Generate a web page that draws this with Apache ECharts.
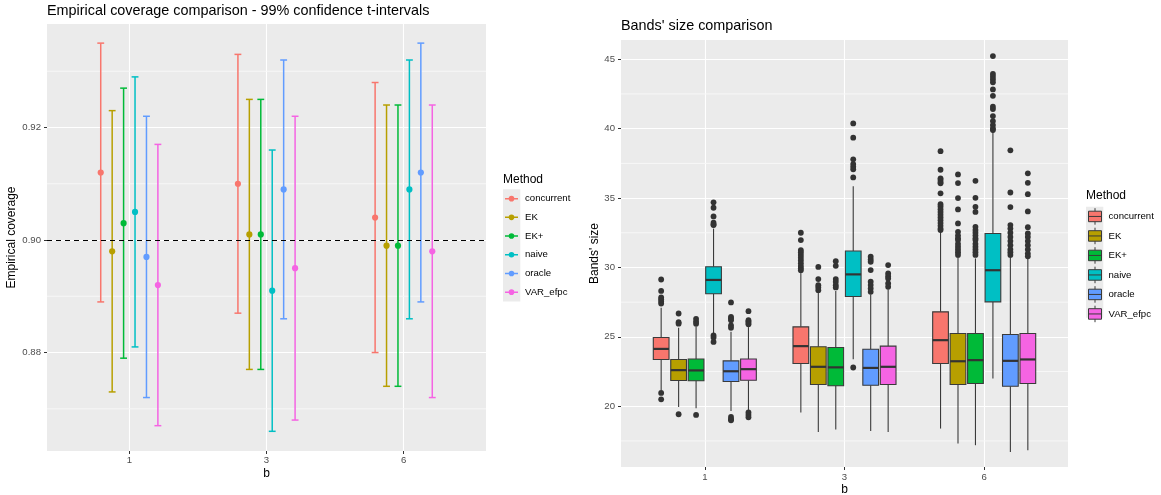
<!DOCTYPE html>
<html>
<head>
<meta charset="utf-8">
<script src="https://cdn.jsdelivr.net/npm/echarts@6/dist/echarts.min.js"></script>
<style>
html,body{margin:0;padding:0;background:#fff;}
#chart{width:1161px;height:495px;}
</style>
</head>
<body>
<div id="chart"></div>
<script>
// ---------- DATA ----------
const methods = ['concurrent', 'EK', 'EK+', 'naive', 'oracle', 'VAR_efpc'];
const bLabels = ['1', '3', '6'];
const colors = ['#F8766D', '#B79F00', '#00BA38', '#00BFC4', '#619CFF', '#F564E3'];

// Empirical coverage (rows: methods, columns: b = 1, 3, 6)
const coverageEstimate = [
  [0.912, 0.910, 0.904],
  [0.898, 0.901, 0.899],
  [0.903, 0.901, 0.899],
  [0.905, 0.891, 0.909],
  [0.897, 0.909, 0.912],
  [0.892, 0.895, 0.898]
];
const coverageLower = [
  [0.889, 0.887, 0.880],
  [0.873, 0.877, 0.874],
  [0.879, 0.877, 0.874],
  [0.881, 0.866, 0.886],
  [0.872, 0.886, 0.889],
  [0.867, 0.868, 0.872]
];
const coverageUpper = [
  [0.935, 0.933, 0.928],
  [0.923, 0.925, 0.924],
  [0.927, 0.925, 0.924],
  [0.929, 0.916, 0.932],
  [0.922, 0.932, 0.935],
  [0.917, 0.922, 0.924]
];
const nominalCoverage = 0.90;

// Bands' size boxplot statistics (rows: methods, columns: b = 1, 3, 6)
const boxLowerWhisker = [
  [21.15, 19.54, 18.39],
  [19.95, 18.15, 17.31],
  [19.85, 18.32, 17.19],
  [25.24, 23.39, 22.00],
  [19.66, 18.22, 16.70],
  [19.73, 18.15, 16.82]
];
const boxQ1 = [
  [23.37, 23.08, 23.08],
  [21.85, 21.57, 21.56],
  [21.83, 21.47, 21.64],
  [28.10, 27.91, 27.52],
  [21.78, 21.51, 21.44],
  [21.87, 21.57, 21.64]
];
const boxMedian = [
  [24.13, 24.33, 24.76],
  [22.60, 22.84, 23.24],
  [22.58, 22.80, 23.32],
  [29.10, 29.50, 29.80],
  [22.52, 22.76, 23.27],
  [22.67, 22.84, 23.37]
];
const boxQ3 = [
  [24.95, 25.72, 26.80],
  [23.37, 24.28, 25.24],
  [23.40, 24.23, 25.24],
  [30.05, 31.18, 32.45],
  [23.27, 24.11, 25.17],
  [23.40, 24.33, 25.24]
];
const boxUpperWhisker = [
  [27.09, 29.70, 32.57],
  [25.65, 28.24, 30.77],
  [25.77, 28.30, 30.65],
  [32.80, 35.86, 39.78],
  [25.36, 28.05, 30.77],
  [25.70, 28.41, 30.65]
];
const boxOutliers = [
  [ [29.13, 28.31, 27.84, 27.70, 27.55, 27.40, 20.96, 20.50],
    [32.50, 31.97, 31.25, 31.10, 30.90, 30.70, 30.50, 30.30, 30.10, 29.95, 29.80],
    [38.38, 37.04, 36.42, 36.30, 36.15, 36.06, 35.34, 34.56, 34.40, 34.20, 34.00, 33.80, 33.60, 33.40, 33.20, 33.00, 32.80, 32.69] ],
  [ [26.68, 26.05, 25.95, 19.42],
    [30.04, 29.16, 28.72, 28.56, 28.36],
    [36.70, 36.08, 35.00, 34.18, 33.17, 32.57, 32.30, 32.10, 31.97, 31.70, 31.50, 31.30, 31.10, 30.90] ],
  [ [26.30, 26.10, 25.95, 19.37],
    [30.45, 30.12, 29.16, 28.97, 28.72, 28.56],
    [36.24, 35.02, 34.37, 34.00, 32.93, 32.70, 32.50, 32.30, 32.10, 31.97, 31.70, 31.50, 31.30, 31.10, 30.90] ],
  [ [34.69, 34.30, 33.68, 33.22, 33.10, 33.05, 25.10, 24.95, 24.63],
    [40.38, 39.35, 37.79, 37.45, 37.25, 37.07, 36.49, 22.79],
    [45.23, 43.94, 43.74, 43.55, 43.34, 42.83, 42.37, 41.58, 41.41, 40.91, 40.55, 40.26, 40.02, 39.90] ],
  [ [27.48, 26.44, 26.32, 26.20, 25.82, 25.65, 19.23, 19.06, 18.99],
    [30.77, 30.58, 30.41, 29.81, 28.97, 28.73, 28.49, 28.24],
    [38.44, 35.40, 34.35, 33.05, 32.80, 32.50, 32.20, 31.90, 31.60, 31.30, 31.10, 30.90] ],
  [ [26.85, 26.20, 26.10, 26.00, 25.90, 19.55, 19.37, 19.20],
    [30.17, 29.57, 29.37, 29.21, 28.85, 28.60],
    [36.78, 36.10, 35.28, 34.04, 32.90, 32.45, 32.20, 31.90, 31.60, 31.30, 31.00, 30.80] ]
];

// Axis ticks
const coverageTicks = [0.88, 0.90, 0.92];
const coverageMinorTicks = [0.87, 0.89, 0.91, 0.93];
const sizeTicks = [20, 25, 30, 35, 40, 45];
const sizeMinorTicks = [17.5, 22.5, 27.5, 32.5, 37.5, 42.5];

// ---------- LAYOUT / STYLE ----------
const FONT = '"Liberation Sans", Arial, Helvetica, sans-serif';
const PANEL_BG = '#EBEBEB';
const nM = methods.length;
const errDodge = 0.5, boxDodge = 0.75;
const capWidth = 0.05, boxWidth = 0.1125;
const xPos = (bi, mi, dodge) => bi + 1 + (mi - (nM - 1) / 2) * (dodge / nM);

function renderErrorBar(params, api) {
  const x = api.value(0);
  const lo = api.coord([x, api.value(1)]);
  const hi = api.coord([x, api.value(2)]);
  const mid = api.coord([x, api.value(3)]);
  const half = api.size([capWidth, 0])[0] / 2;
  const color = api.visual('color');
  const ls = { stroke: color, lineWidth: 1.5 };
  return {
    type: 'group',
    children: [
      { type: 'line', shape: { x1: lo[0], y1: lo[1], x2: hi[0], y2: hi[1] }, style: ls },
      { type: 'line', shape: { x1: hi[0] - half, y1: hi[1], x2: hi[0] + half, y2: hi[1] }, style: ls },
      { type: 'line', shape: { x1: lo[0] - half, y1: lo[1], x2: lo[0] + half, y2: lo[1] }, style: ls },
      { type: 'circle', shape: { cx: mid[0], cy: mid[1], r: 3.1 }, style: { fill: color } }
    ]
  };
}

function renderBox(params, api) {
  const x = api.value(0);
  const pMin = api.coord([x, api.value(1)]);
  const pQ1 = api.coord([x, api.value(2)]);
  const pMed = api.coord([x, api.value(3)]);
  const pQ3 = api.coord([x, api.value(4)]);
  const pMax = api.coord([x, api.value(5)]);
  const half = api.size([boxWidth, 0])[0] / 2;
  const color = api.visual('color');
  const edge = '#3a3a3a';
  return {
    type: 'group',
    children: [
      { type: 'line', shape: { x1: pMin[0], y1: pMin[1], x2: pQ1[0], y2: pQ1[1] }, style: { stroke: edge, lineWidth: 1.1 } },
      { type: 'line', shape: { x1: pQ3[0], y1: pQ3[1], x2: pMax[0], y2: pMax[1] }, style: { stroke: edge, lineWidth: 1.1 } },
      { type: 'rect', shape: { x: pQ3[0] - half, y: pQ3[1], width: half * 2, height: pQ1[1] - pQ3[1] },
        style: { fill: color, stroke: edge, lineWidth: 1.1 } },
      { type: 'line', shape: { x1: pMed[0] - half, y1: pMed[1], x2: pMed[0] + half, y2: pMed[1] }, style: { stroke: '#333', lineWidth: 2.2 } }
    ]
  };
}

// minor horizontal grid lines (ggplot panel.grid.minor), positioned via the y scale
function renderMinorGrid(params, api) {
  const cs = params.coordSys;
  const y = api.coord([2, api.value(1)])[1];
  return {
    type: 'line',
    shape: { x1: cs.x, y1: y, x2: cs.x + cs.width, y2: y },
    style: { stroke: '#F7F7F7', lineWidth: 1 }
  };
}
function minorGridSeries(xi, yi, ticks) {
  return {
    name: 'minor-grid', type: 'custom', xAxisIndex: xi, yAxisIndex: yi, z: 1, silent: true,
    renderItem: renderMinorGrid,
    encode: { x: 0, y: 1 },
    data: ticks.map(v => [2, v])
  };
}

const series = [minorGridSeries(0, 0, coverageMinorTicks), minorGridSeries(1, 1, sizeMinorTicks)];
methods.forEach((m, mi) => {
  series.push({
    name: m, type: 'custom', xAxisIndex: 0, yAxisIndex: 0,
    itemStyle: { color: colors[mi] },
    renderItem: renderErrorBar,
    encode: { x: 0, y: [1, 2, 3] },
    data: bLabels.map((b, bi) => [xPos(bi, mi, errDodge), coverageLower[mi][bi], coverageUpper[mi][bi], coverageEstimate[mi][bi]]),
    markLine: mi === 0 ? {
      silent: true, symbol: 'none', label: { show: false },
      lineStyle: { color: '#000', type: [5, 4], width: 1.2 },
      data: [{ yAxis: nominalCoverage }]
    } : undefined,
    z: 3
  });
});
methods.forEach((m, mi) => {
  series.push({
    name: m, type: 'custom', xAxisIndex: 1, yAxisIndex: 1,
    itemStyle: { color: colors[mi] },
    renderItem: renderBox,
    encode: { x: 0, y: [1, 2, 3, 4, 5] },
    data: bLabels.map((b, bi) => [xPos(bi, mi, boxDodge), boxLowerWhisker[mi][bi], boxQ1[mi][bi], boxMedian[mi][bi], boxQ3[mi][bi], boxUpperWhisker[mi][bi]]),
    z: 3
  });
});
const outlierData = [];
methods.forEach((m, mi) => bLabels.forEach((b, bi) => boxOutliers[mi][bi].forEach(v => outlierData.push([xPos(bi, mi, boxDodge), v]))));
series.push({
  name: 'outliers', type: 'scatter', xAxisIndex: 1, yAxisIndex: 1,
  symbolSize: 5.8, itemStyle: { color: '#333333', opacity: 1 },
  data: outlierData, z: 4, silent: true
});

const axisLabelStyle = { color: '#4D4D4D', fontSize: 9.6, fontFamily: FONT };
const tickStyle = { lineStyle: { color: '#333333', width: 1 }, length: 3 };

function xAxisDef(gridIndex, margin, nameGap) {
  return {
    type: 'value', gridIndex, min: 0.4, max: 3.6,
    name: 'b', nameLocation: 'middle', nameGap, nameMoveOverlap: false,
    nameTextStyle: { color: '#000', fontSize: 12, fontFamily: FONT },
    axisLine: { show: false },
    axisTick: { show: true, customValues: [1, 2, 3], ...tickStyle },
    axisLabel: { customValues: [1, 2, 3], margin, formatter: v => bLabels[Math.round(v) - 1], ...axisLabelStyle },
    splitLine: { show: true, lineStyle: { color: '#FFFFFF', width: 1.1 } }
  };
}
function yAxisDef(gridIndex, min, max, ticks, name, nameGap, fmt) {
  return {
    type: 'value', gridIndex, min, max,
    name, nameLocation: 'middle', nameGap,
    nameTextStyle: { color: '#000', fontSize: 12, fontFamily: FONT },
    axisLine: { show: false },
    axisTick: { show: true, customValues: ticks, ...tickStyle },
    axisLabel: { customValues: ticks, margin: 6, formatter: fmt, ...axisLabelStyle },
    splitLine: { show: true, lineStyle: { color: '#FFFFFF', width: 1.1 } }
  };
}

const leftLegendIcon = 'path://M0,0 M17,18.7 M2,8.6 L15,8.6 L15,10.1 L2,10.1 Z M11.3,9.35 A2.8,2.8 0 1 1 5.7,9.35 A2.8,2.8 0 1 1 11.3,9.35 Z';
const rightLegendIcon = 'path://M0,0 M17,18.5 M8.5,1 L8.5,4 M2,4 L15,4 L15,14.5 L2,14.5 Z M2,9.25 L15,9.25 M8.5,14.5 L8.5,17.5';

const option = {
  animation: false,
  backgroundColor: '#FFFFFF',
  textStyle: { fontFamily: FONT },
  title: [
    { text: 'Empirical coverage comparison - 99% confidence t-intervals', left: 47, top: 4, padding: 0,
      textStyle: { fontSize: 14.4, fontWeight: 'normal', color: '#000', fontFamily: FONT } },
    { text: "Bands' size comparison", left: 621, top: 19, padding: 0,
      textStyle: { fontSize: 14.4, fontWeight: 'normal', color: '#000', fontFamily: FONT } },
    { text: 'Method', left: 503, top: 174, padding: 0,
      textStyle: { fontSize: 12, fontWeight: 'normal', color: '#000', fontFamily: FONT } },
    { text: 'Method', left: 1086, top: 190, padding: 0,
      textStyle: { fontSize: 12, fontWeight: 'normal', color: '#000', fontFamily: FONT } }
  ],
  grid: [
    { left: 47, top: 24, width: 439, height: 427, show: true, backgroundColor: PANEL_BG, borderWidth: 0, outerBoundsMode: 'none', containLabel: false },
    { left: 621, top: 40, width: 447, height: 427, show: true, backgroundColor: PANEL_BG, borderWidth: 0, outerBoundsMode: 'none', containLabel: false }
  ],
  xAxis: [xAxisDef(0, 4, 17), xAxisDef(1, 5, 16.5)],
  yAxis: [
    yAxisDef(0, 0.8625, 0.9384, coverageTicks, 'Empirical coverage', 29, v => v.toFixed(2)),
    yAxisDef(1, 15.62, 46.39, sizeTicks, "Bands' size", 18.5, v => String(v))
  ],
  legend: [
    { orient: 'vertical', left: 503, top: 189.3, padding: 0, itemWidth: 17, itemHeight: 18.7, itemGap: 0,
      data: methods.map(m => ({ name: m, icon: leftLegendIcon })),
      textStyle: { fontSize: 9.6, color: '#000', fontFamily: FONT } },
    { orient: 'vertical', left: 1086, top: 206.7, padding: 0, itemWidth: 17, itemHeight: 18.5, itemGap: 0,
      data: methods.map(m => ({ name: m, icon: rightLegendIcon })),
      itemStyle: { borderColor: '#3a3a3a', borderWidth: 1 },
      textStyle: { fontSize: 9.6, color: '#000', fontFamily: FONT } }
  ],
  graphic: [
    { type: 'rect', z: 0, silent: true, shape: { x: 503, y: 189.3, width: 17.3, height: 112.2 }, style: { fill: PANEL_BG } },
    { type: 'rect', z: 0, silent: true, shape: { x: 1086, y: 206.7, width: 17.3, height: 111 }, style: { fill: PANEL_BG } }
  ],
  series
};

const chart = echarts.init(document.getElementById('chart'), null, { renderer: 'canvas' });
chart.setOption(option);
</script>
</body>
</html>
